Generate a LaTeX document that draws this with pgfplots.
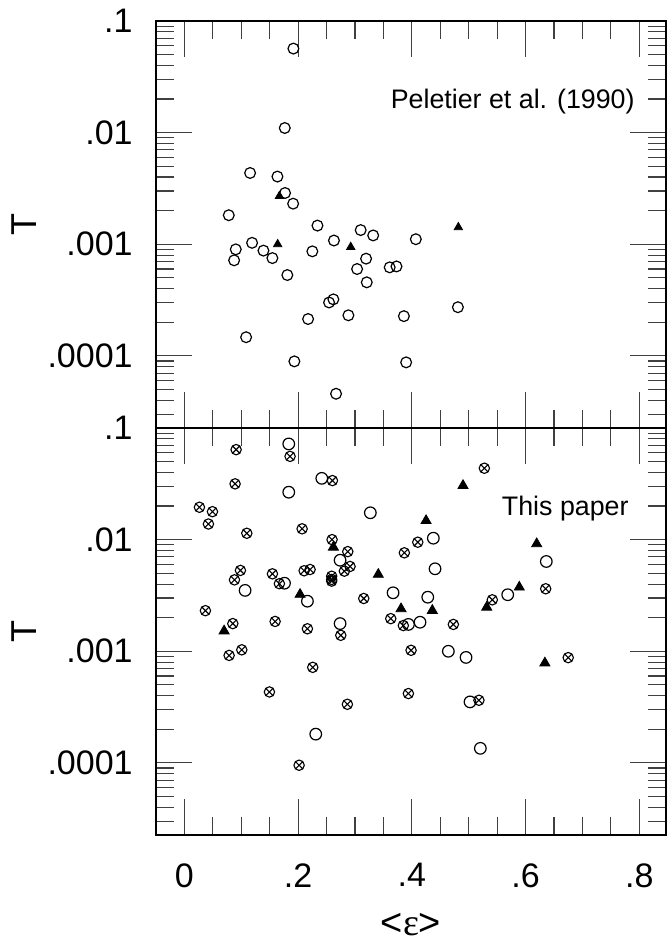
\documentclass[border=0pt]{standalone}
\usepackage{fontspec}
\setmainfont{Liberation Sans}
\newfontfamily\serifeps{Liberation Serif}
\usepackage{pgfplots}
\pgfplotsset{compat=1.18}
\usetikzlibrary{plotmarks}

\begin{document}
\begin{tikzpicture}
\path[use as bounding box] (-78bp,-53bp) rectangle (255.5bp,417.5bp);

% ---------------- top panel ----------------
\begin{axis}[
  scale only axis, width=255bp, height=203.5bp,
  xmin=-0.05, xmax=0.847, ymode=log, ymin=2.26e-5, ymax=0.1,
  xtick={0,0.2,0.4,0.6,0.8},
  minor xtick={0.05,0.1,0.15,0.25,0.3,0.35,0.45,0.5,0.55,0.65,0.7,0.75},
  ytick={1e-4,1e-3,1e-2,1e-1}, yticklabels={.0001,.001,.01,.1},
  minor ytick={2e-5,3e-5,4e-5,5e-5,6e-5,7e-5,8e-5,9e-5,2e-4,3e-4,4e-4,5e-4,6e-4,7e-4,8e-4,9e-4,2e-3,3e-3,4e-3,5e-3,6e-3,7e-3,8e-3,9e-3,2e-2,3e-2,4e-2,5e-2,6e-2,7e-2,8e-2,9e-2},
  tick align=inside, major tick length=18bp, minor tick length=9bp,
  tick style={black!75, line width=0.55bp},
  axis line style={line width=0.8bp, black},
  yticklabel style={font=\fontsize{17bp}{20bp}\selectfont, anchor=east, inner sep=0pt, xshift=-11.5bp},
  clip=false,
  name=top, at={(0,203.5bp)}, anchor=south west, xticklabels={}]
\addplot[only marks, mark=o, mark size=2.7bp, mark options={line width=0.6bp, black}] coordinates {
(0.1917,0.0566) (0.1765,0.011) (0.1155,0.00435) (0.1636,0.00404)
(0.177,0.00288) (0.1912,0.00231) (0.078,0.00182) (0.234,0.00147)
(0.310,0.00134) (0.332,0.0012) (0.407,0.00111) (0.263,0.00108)
(0.119,0.00103) (0.0903,0.0009) (0.139,0.000877) (0.225,0.000864)
(0.1547,0.000752) (0.3195,0.000743) (0.0874,0.000718) (0.361,0.000621)
(0.373,0.000633) (0.3037,0.0006) (0.181,0.00053) (0.3207,0.000456)
(0.262,0.000321) (0.2544,0.000301) (0.481,0.000273) (0.2884,0.000231)
(0.386,0.000227) (0.2175,0.000214) (0.1085,0.000147) (0.1934,0.0000893)
(0.390,0.0000875) (0.2667,0.0000458)
};
\addplot[only marks, mark=triangle*, mark size=2.4bp, mark options={black, fill=black}] coordinates {
(0.167,0.0027) (0.164,0.001) (0.2925,0.000944) (0.4818,0.00142)
};
\end{axis}

% ---------------- bottom panel ----------------
\begin{axis}[
  scale only axis, width=255bp, height=203.5bp,
  xmin=-0.05, xmax=0.847, ymode=log, ymin=2.26e-5, ymax=0.1,
  xtick={0,0.2,0.4,0.6,0.8}, xticklabels={0,.2,.4,.6,.8},
  minor xtick={0.05,0.1,0.15,0.25,0.3,0.35,0.45,0.5,0.55,0.65,0.7,0.75},
  ytick={1e-4,1e-3,1e-2,1e-1}, yticklabels={.0001,.001,.01,.1},
  minor ytick={2e-5,3e-5,4e-5,5e-5,6e-5,7e-5,8e-5,9e-5,2e-4,3e-4,4e-4,5e-4,6e-4,7e-4,8e-4,9e-4,2e-3,3e-3,4e-3,5e-3,6e-3,7e-3,8e-3,9e-3,2e-2,3e-2,4e-2,5e-2,6e-2,7e-2,8e-2,9e-2},
  tick align=inside, major tick length=18bp, minor tick length=9bp,
  tick style={black!75, line width=0.55bp},
  axis line style={line width=0.8bp, black},
  yticklabel style={font=\fontsize{17bp}{20bp}\selectfont, anchor=east, inner sep=0pt, xshift=-11.5bp},
  xticklabel style={font=\fontsize{17bp}{20bp}\selectfont, anchor=north, inner sep=0pt, yshift=-14bp},
  clip=false,
  name=bot, at={(0,0)}, anchor=south west]
\addplot[only marks, mark=otimes, mark size=2.6bp, mark options={line width=0.55bp, black}] coordinates {
(0.0909,0.064) (0.1858,0.0557) (0.0891,0.0316) (0.2603,0.0338)
(0.0264,0.0195) (0.0493,0.0178) (0.0422,0.0138) (0.1097,0.0114)
(0.207,0.0125) (0.2597,0.0100) (0.4104,0.00948) (0.2873,0.00781)
(0.3868,0.00762) (0.2913,0.00575) (0.2813,0.00522) (0.0985,0.0053)
(0.2105,0.00526) (0.221,0.0054) (0.1548,0.00494) (0.259,0.0047)
(0.259,0.0044) (0.259,0.00425) (0.088,0.00436) (0.167,0.00403)
(0.3154,0.00297) (0.0369,0.00231) (0.3629,0.00196) (0.385,0.0017)
(0.0851,0.00177) (0.1595,0.00185) (0.2163,0.00159) (0.275,0.00139)
(0.0786,0.000918) (0.1009,0.00103) (0.3986,0.00102) (0.2257,0.000718)
(0.1495,0.000432) (0.3939,0.000418) (0.2866,0.000335) (0.2017,0.0000953)
(0.5275,0.0436) (0.473,0.00174) (0.6354,0.00363) (0.5415,0.00289)
(0.675,0.000877) (0.518,0.000364)
};
\addplot[only marks, mark=o, mark size=2.9bp, mark options={line width=0.6bp, black}] coordinates {
(0.1835,0.072) (0.2416,0.0354) (0.1835,0.0266) (0.327,0.0174)
(0.2738,0.00654) (0.176,0.00407) (0.1067,0.00351) (0.2163,0.00281)
(0.367,0.00334) (0.394,0.00174) (0.2738,0.00177) (0.231,0.000181)
(0.4378,0.0103) (0.4408,0.00548) (0.428,0.00305) (0.4144,0.00182)
(0.6365,0.00637) (0.5686,0.00321) (0.4642,0.001) (0.4953,0.000881)
(0.5023,0.000352) (0.5205,0.000135)
};
\addplot[only marks, mark=triangle*, mark size=2.9bp, mark options={black, fill=black}] coordinates {
(0.262,0.00855) (0.341,0.00488) (0.2034,0.00323) (0.381,0.0024)
(0.0698,0.00152) (0.49,0.0305) (0.425,0.0148) (0.436,0.00232)
(0.6196,0.00918) (0.589,0.00375) (0.5317,0.00248) (0.634,0.000785)
};
\end{axis}

% labels and annotations
\node[rotate=90, font=\fontsize{18bp}{21bp}\selectfont] at ([xshift=-65.75bp]top.west) {T};
\node[rotate=90, font=\fontsize{18bp}{21bp}\selectfont] at ([xshift=-65.75bp]bot.west) {T};
\node[inner sep=0pt, font=\fontsize{19bp}{22bp}\selectfont] at ([yshift=-44.8bp]bot.south) {<{\serifeps ε}>};
\node[anchor=base east, inner sep=0pt, font=\fontsize{13.4bp}{16bp}\selectfont]
  at ([xshift=-15.5bp, yshift=-43.8bp]top.north east) {Peletier et al. (1990)};
\node[anchor=base east, inner sep=0pt, font=\fontsize{13.4bp}{16bp}\selectfont]
  at ([xshift=-18.5bp, yshift=-43.8bp]bot.north east) {This paper};
\end{tikzpicture}
\end{document}
